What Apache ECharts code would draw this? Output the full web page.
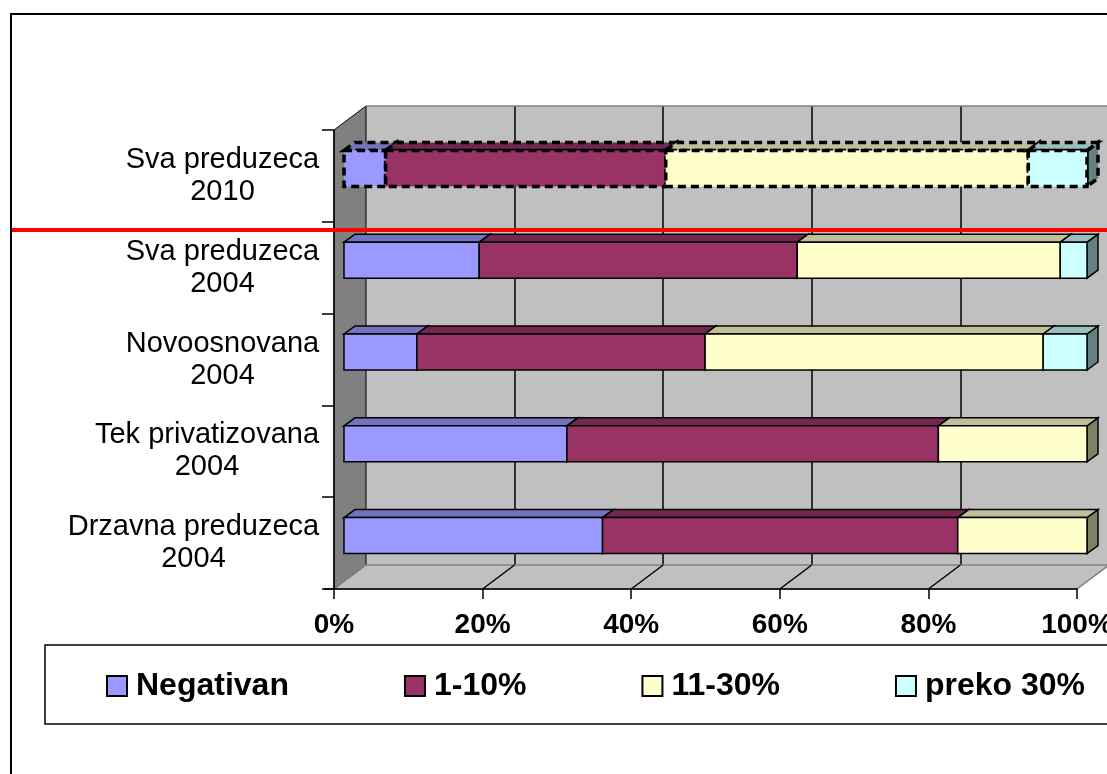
<!DOCTYPE html>
<html>
<head>
<meta charset="utf-8">
<script src="https://cdn.jsdelivr.net/npm/echarts@6/dist/echarts.min.js"></script>
<style>
  html, body { margin: 0; padding: 0; background: #fff; }
  #chart { width: 1107px; height: 774px; }
</style>
</head>
<body>
<div id="chart"></div>
<script>
// categories bottom -> top, values in percent
const categories = ['Drzavna preduzeca\n2004', 'Tek privatizovana\n2004', 'Novoosnovana\n2004', 'Sva preduzeca\n2004', 'Sva preduzeca\n2010'];
const seriesNames = ['Negativan', '1-10%', '11-30%', 'preko 30%'];
const negativan = [34.8, 30.0, 9.8, 18.2, 5.6];
const od1do10 = [47.8, 50.0, 38.8, 42.8, 37.7];
const od11do30 = [17.4, 20.0, 45.5, 35.4, 48.8];
const preko30 = [0, 0, 5.9, 3.6, 7.9];
const xTicks = [0, 20, 40, 60, 80, 100];

const values = [negativan, od1do10, od11do30, preko30];
const frontColors = ['#9999ff', '#993366', '#ffffcc', '#ccffff'];
const topColors = ['#7373bf', '#732650', '#bfbf99', '#99bfbf'];
const sideColors = ['#4d4d80', '#4d1a33', '#808066', '#668080'];

// 3d look (excel style): front plane, back wall offset, bar offset
const FRONT = { left: 334, top: 130, width: 743, height: 459 };
const DEPTH = [32, -24];
const BAR_OFF = [10, -7.5];
const BAR_DEPTH = [11, -8];
const BAR_RATIO = 0.392;
const FONT = '"Liberation Sans", Arial, sans-serif';

// y labels: two lines centred on each other, block right aligned
const ctx = document.createElement('canvas').getContext('2d');
ctx.font = '29px "Liberation Sans"';
const rich = {};
categories.forEach((c, i) => {
  const w = Math.max(...c.split('\n').map(l => ctx.measureText(l).width));
  rich['c' + i] = { width: Math.ceil(w) + 1, align: 'center', fontSize: 29, lineHeight: 32, fontFamily: FONT, color: '#000' };
});

function renderBar(s) {
  return function (params, api) {
    const cat = api.value(0), a = api.value(1), b = api.value(2);
    if (b - a <= 0) return null;
    const p0 = api.coord([a, cat]);
    const p1 = api.coord([b, cat]);
    const h = api.size([0, 1])[1] * BAR_RATIO;
    const x0 = p0[0] + BAR_OFF[0], x1 = p1[0] + BAR_OFF[0];
    const yt = p0[1] + BAR_OFF[1] - h / 2, yb = yt + h;
    const dx = BAR_DEPTH[0], dy = BAR_DEPTH[1];
    // the 2010 bar is shown "selected" (dashed outline)
    const sel = cat === categories.length - 1;
    const line = sel ? { stroke: '#000', lineWidth: 3.5, lineDash: [8, 5] } : { stroke: '#000', lineWidth: 1.5 };
    return {
      type: 'group',
      children: [
        { type: 'polygon', shape: { points: [[x1, yt], [x1 + dx, yt + dy], [x1 + dx, yb + dy], [x1, yb]] }, style: Object.assign({ fill: sideColors[s] }, line) },
        { type: 'polygon', shape: { points: [[x0, yt], [x0 + dx, yt + dy], [x1 + dx, yt + dy], [x1, yt]] }, style: Object.assign({ fill: topColors[s] }, line) },
        { type: 'rect', shape: { x: x0, y: yt, width: x1 - x0, height: h }, style: Object.assign({ fill: frontColors[s] }, line) }
      ]
    };
  };
}

const series = seriesNames.map((name, s) => {
  const data = categories.map((c, i) => {
    let start = 0;
    for (let k = 0; k < s; k++) start += values[k][i];
    return [i, start, start + values[s][i]];
  });
  return {
    name: name,
    type: 'custom',
    xAxisIndex: 0,
    yAxisIndex: 0,
    clip: false,
    z: 3,
    itemStyle: { color: frontColors[s], borderColor: '#000', borderWidth: 1.5 },
    encode: { x: [1, 2], y: 0 },
    renderItem: renderBar(s),
    data: data
  };
});

// walls / floor
const fx0 = FRONT.left, fx1 = FRONT.left + FRONT.width;
const fy0 = FRONT.top, fy1 = FRONT.top + FRONT.height;
const graphics = [
  { type: 'polygon', z: 1, shape: { points: [[fx0, fy0], [fx0 + DEPTH[0], fy0 + DEPTH[1]], [fx0 + DEPTH[0], fy1 + DEPTH[1]], [fx0, fy1]] },
    style: { fill: '#808080', stroke: '#000', lineWidth: 1 } },
  { type: 'polygon', z: 1, shape: { points: [[fx0, fy1], [fx0 + DEPTH[0], fy1 + DEPTH[1]], [fx1 + DEPTH[0], fy1 + DEPTH[1]], [fx1, fy1]] },
    style: { fill: '#c0c0c0', stroke: '#808080', lineWidth: 1.5 } },
  { type: 'line', z: 1, shape: { x1: fx0 + DEPTH[0], y1: fy0 + DEPTH[1], x2: fx1 + DEPTH[0] + 2, y2: fy0 + DEPTH[1] },
    style: { stroke: '#808080', lineWidth: 1.5 } },
  { type: 'line', z: 6, shape: { x1: fx0 - 10, y1: fy1, x2: fx0, y2: fy1 }, style: { stroke: '#000', lineWidth: 1.5 } }
];
xTicks.slice(1, -1).forEach(t => {
  const x = fx0 + FRONT.width * t / 100;
  graphics.push({ type: 'line', z: 1, shape: { x1: x, y1: fy1, x2: x + DEPTH[0], y2: fy1 + DEPTH[1] }, style: { stroke: '#000', lineWidth: 1.5 } });
});
// red annotation line and outer frame
graphics.push({ type: 'line', z: 20, shape: { x1: 10, y1: 230, x2: 1107, y2: 230 }, style: { stroke: '#ff0000', lineWidth: 4 } });
graphics.push({ type: 'rect', z: 20, shape: { x: 11, y: 14, width: 1300, height: 900 }, style: { fill: 'transparent', stroke: '#000', lineWidth: 2 } });

const chart = echarts.init(document.getElementById('chart'));
chart.setOption({
  animation: false,
  backgroundColor: '#fff',
  grid: [
    { left: FRONT.left, top: FRONT.top, width: FRONT.width, height: FRONT.height, containLabel: false, outerBoundsMode: 'none' },
    { left: FRONT.left + DEPTH[0], top: FRONT.top + DEPTH[1], width: FRONT.width, height: FRONT.height + 1,
      show: true, backgroundColor: '#c0c0c0', borderWidth: 0, z: 0, outerBoundsMode: 'none' }
  ],
  legend: {
    data: seriesNames,
    left: 45,
    top: 645,
    width: 1200,
    padding: [25, 61, 22, 61],
    itemGap: 115,
    itemWidth: 20,
    itemHeight: 20,
    icon: 'rect',
    borderColor: '#000',
    borderWidth: 1.5,
    textStyle: { fontFamily: FONT, fontSize: 32, fontWeight: 'bold', color: '#000', padding: [0, 0, 0, 4] }
  },
  xAxis: [
    {
      type: 'value', gridIndex: 0, min: xTicks[0], max: xTicks[xTicks.length - 1], interval: 20, z: 5,
      axisLine: { show: true, lineStyle: { color: '#000', width: 1.5 } },
      axisTick: { show: true, length: 10, lineStyle: { color: '#000', width: 1.5 } },
      splitLine: { show: false },
      axisLabel: { formatter: '{value}%', margin: 22, fontFamily: FONT, fontSize: 28, fontWeight: 'bold', color: '#000' }
    },
    {
      type: 'value', gridIndex: 1, min: xTicks[0], max: xTicks[xTicks.length - 1], interval: 20,
      axisLine: { show: false }, axisTick: { show: false }, axisLabel: { show: false },
      splitLine: { show: true, showMinLine: false, lineStyle: { color: '#000', width: 1.5 } }
    }
  ],
  yAxis: [
    {
      type: 'category', gridIndex: 0, data: categories, z: 5,
      axisLine: { show: true, lineStyle: { color: '#000', width: 1.5 } },
      axisTick: { show: true, length: 12, lineStyle: { color: '#000', width: 1.5 } },
      axisLabel: {
        margin: 14,
        rich: rich,
        formatter: (value, index) => value.split('\n').map(l => '{c' + index + '|' + l + '}').join('\n')
      }
    },
    { type: 'category', gridIndex: 1, data: categories, show: false }
  ],
  graphic: graphics,
  series: series
});
</script>
</body>
</html>
